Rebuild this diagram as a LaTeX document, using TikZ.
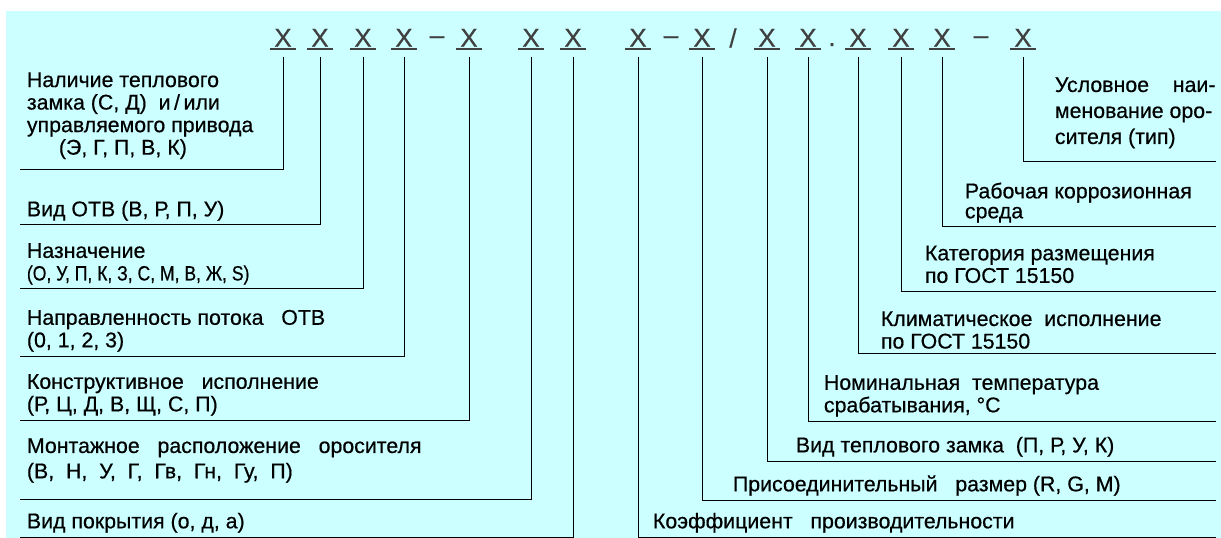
\documentclass[tikz,border=0pt]{standalone}
\usepackage{fontspec}
\setmainfont{Liberation Sans}[FakeBold=0.5]
\usetikzlibrary{positioning}
\definecolor{bgcyan}{RGB}{204,255,255}
\definecolor{codegray}{RGB}{64,64,64}
\tikzset{
  xcode/.style = {font=\fontsize{19.5}{19.5}\selectfont, text=codegray, minimum width=19pt, inner xsep=0pt, inner ysep=1.5pt},
  xsep/.style = {font=\fontsize{19.5}{19.5}\selectfont, text=codegray, inner sep=0pt},
  lbl/.style = {font=\fontsize{16}{16.9}\selectfont, align=left, inner xsep=5pt, inner ysep=3pt, anchor=south west},
  uline/.style = {line width=1.6pt, codegray},
  leader/.style = {line width=0.75pt}
}

\begin{document}
\begin{tikzpicture}[x=0.75pt, y=-0.75pt]
  % background
  \useasboundingbox (0,0) rectangle (1221,538);
  \fill[white] (0,0) rectangle (1221,538);
  \fill[bgcyan] (6,11) rectangle (1221,538);
  % code letters
  \node (x1) [xcode, anchor=south] at (283,49) {X};
  \node (x2) [xcode, anchor=south] at (320,49) {X};
  \node (x3) [xcode, anchor=south] at (363,49) {X};
  \node (x4) [xcode, anchor=south] at (404,49) {X};
  \node (x5) [xcode, anchor=south] at (469,49) {X};
  \node (x6) [xcode, anchor=south] at (531,49) {X};
  \node (x7) [xcode, anchor=south] at (573,49) {X};
  \node (x8) [xcode, anchor=south] at (638,49) {X};
  \node (x9) [xcode, anchor=south] at (702,49) {X};
  \node (x10) [xcode, anchor=south] at (767,49) {X};
  \node (x11) [xcode, anchor=south] at (808,49) {X};
  \node (x12) [xcode, anchor=south] at (858,49) {X};
  \node (x13) [xcode, anchor=south] at (901,49) {X};
  \node (x14) [xcode, anchor=south] at (942,49) {X};
  \node (x15) [xcode, anchor=south] at (1023,49) {X};
  \node (s1) [xsep] at (437,40) {–};
  \node (s2) [xsep] at (671,40) {–};
  \node (s3) [xsep] at (733,38) {/};
  \node (s4) [xsep, anchor=base] at (832,46) {.};
  \node (s5) [xsep] at (981,40) {–};
  % corners
  \coordinate (c1) at (20,170);
  \coordinate (c2) at (20,225);
  \coordinate (c3) at (20,289);
  \coordinate (c4) at (20,356);
  \coordinate (c5) at (20,420);
  \coordinate (c6) at (20,499);
  \coordinate (c7) at (20,537);
  \coordinate (c8) at (1216,537);
  \coordinate (c9) at (1216,500);
  \coordinate (c10) at (1216,461);
  \coordinate (c11) at (1216,421);
  \coordinate (c12) at (1216,353);
  \coordinate (c13) at (1216,292);
  \coordinate (c14) at (1216,227);
  \coordinate (c15) at (1216,162);
  % labels left
  \node (t1) [lbl, yshift=5pt] at (c1) {Наличие теплового\\замка (С, Д)\ \ и\,/\,или\\управляемого привода\\\hspace*{1.5em}(Э,\ Г,\ П,\ В,\ К)};
  \node (t2) [lbl] at (c2) {Вид ОТВ (В,\ Р,\ П,\ У)};
  \node (t3) [lbl] at (c3) {Назначение\\{\fontsize{15.5}{15.5}\selectfont\scalebox{0.85}[1]{(О, У, П, К, З, С, М, В, Ж, S)}}};
  \node (t4) [lbl] at (c4) {Направленность потока\ \ \ ОТВ\\(0,\ 1,\ 2,\ 3)};
  \node (t5) [lbl] at (c5) {Конструктивное\ \ \ исполнение\\(Р,\ Ц,\ Д,\ В,\ Щ,\ С,\ П)};
  \node (t6) [lbl, yshift=9pt, font=\fontsize{16}{19}\selectfont] at (c6) {Монтажное\ \ \ расположение\ \ \ оросителя\\(В,\ \ Н,\ \ У,\ \ Г,\ \ Гв,\ \ Гн,\ \ Гу,\ \ П)};
  \node (t7) [lbl] at (c7) {Вид покрытия (о,\ д,\ а)};
  % labels right
  \node (t8) [lbl] at (646,537) {Коэффициент\ \ \ производительности};
  \node (t9) [lbl] at (726,500) {Присоединительный\ \ \ размер (R,\ G,\ M)};
  \node (t10) [lbl] at (789,461) {Вид теплового замка\ \ (П,\ Р,\ У,\ К)};
  \node (t11) [lbl] at (817,421) {Номинальная\ \ температура\\срабатывания, °С};
  \node (t12) [lbl] at (874,353) {Климатическое\ \ исполнение\\по ГОСТ\ 15150};
  \node (t13) [lbl, yshift=3.5pt] at (918,292) {Категория размещения\\по ГОСТ\ 15150};
  \node (t14) [lbl, font=\fontsize{16}{15}\selectfont] at (958,227) {Рабочая\ коррозионная\\среда};
  \node (t15) [lbl, yshift=7pt, font=\fontsize{16}{19.5}\selectfont] at (1048,162) {Условное\ \ \ \ наи-\\менование оро-\\сителя (тип)};
  % edges
  \foreach \i in {1,...,15} {
    \draw[uline] (x\i.south west) -- (x\i.south east);
    \draw[leader] ([yshift=-6pt]x\i.south) |- (c\i);
  }
\end{tikzpicture}
\end{document}
